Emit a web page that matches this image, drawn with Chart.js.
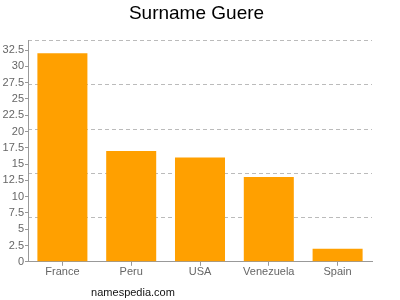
<!DOCTYPE html>
<html>
<head>
<meta charset="utf-8">
<script src="https://cdn.jsdelivr.net/npm/chart.js@4/dist/chart.umd.min.js"></script>
<style>
  html, body { margin: 0; padding: 0; background: #fff; }
  #wrap { width: 400px; height: 300px; }
</style>
</head>
<body>
<div id="wrap"><canvas id="nameChart" width="400" height="300"></canvas></div>
<script>
// Data
const countries = ['France', 'Peru', 'USA', 'Venezuela', 'Spain'];
const counts = [32, 17, 16, 13, 2];
const tickStep = 2.5;
const axisMax = 33.92;
const gridCount = 5;

// watermark under the plot
const watermark = {
    id: 'watermark',
    afterDraw(chart) {
        const ctx = chart.ctx;
        ctx.save();
        ctx.font = '11px "Liberation Sans", Arial, sans-serif';
        ctx.fillStyle = '#111';
        ctx.textAlign = 'center';
        ctx.textBaseline = 'alphabetic';
        ctx.fillText('namespedia.com', 133, 296);
        ctx.restore();
    }
};

function initNameChart() {
    const ctx = document.getElementById('nameChart').getContext('2d');
    new Chart(ctx, {
        type: 'bar',
        data: {
            labels: countries,
            datasets: [{
                data: counts,
                backgroundColor: '#ffa000',
                borderWidth: 0,
                categoryPercentage: 1,
                barPercentage: 0.727
            }]
        },
        options: {
            responsive: false,
            animation: false,
            layout: { padding: { top: 0, right: 7, bottom: 21, left: 0 } },
            plugins: {
                legend: { display: false },
                tooltip: { enabled: false },
                title: {
                    display: true,
                    text: 'Surname Guere',
                    color: '#000',
                    font: { family: '"Liberation Sans", Arial, sans-serif', size: 19, weight: 'normal' },
                    padding: { top: 2, bottom: 16 }
                }
            },
            scales: {
                x: {
                    grid: { drawOnChartArea: false, offset: false, tickLength: 4, color: '#999' },
                    border: { color: '#999' },
                    ticks: {
                        color: '#666',
                        padding: 0,
                        font: { family: '"Liberation Sans", Arial, sans-serif', size: 11 }
                    }
                },
                y: {
                    min: 0,
                    max: axisMax,
                    grid: { drawOnChartArea: false, tickLength: 3, color: '#999' },
                    border: { color: '#999' },
                    ticks: {
                        stepSize: tickStep,
                        includeBounds: false,
                        color: '#666',
                        padding: 1,
                        font: { family: '"Liberation Sans", Arial, sans-serif', size: 11 }
                    },
                    afterFit(scale) { scale.width = 28; }
                },
                y2: {
                    position: 'left',
                    min: 0,
                    max: axisMax,
                    grid: { color: '#bbb', drawTicks: false },
                    border: { display: false, dash: [4, 3] },
                    ticks: { display: false },
                    afterBuildTicks(scale) {
                        const t = [];
                        for (let i = 0; i <= gridCount; i++) t.push({ value: axisMax * i / gridCount });
                        scale.ticks = t;
                    },
                    afterFit(scale) { scale.width = 0; }
                },
                // empty strip on the right side, keeps the title centred like the original
                yRight: {
                    position: 'right',
                    min: 0,
                    max: axisMax,
                    grid: { display: false },
                    border: { display: false },
                    ticks: { display: false },
                    afterFit(scale) { scale.width = 21; }
                }
            }
        },
        plugins: [watermark]
    });
}

document.addEventListener('DOMContentLoaded', () => {
    initNameChart();
});
</script>
</body>
</html>
